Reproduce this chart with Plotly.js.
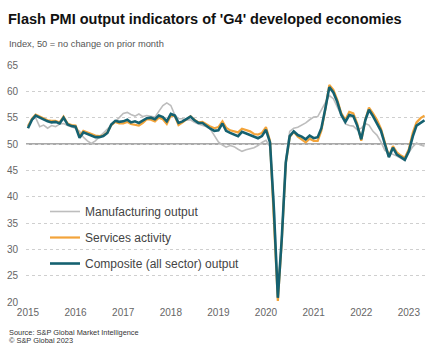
<!DOCTYPE html>
<html>
<head>
<meta charset="utf-8">
<script src="https://cdn.plot.ly/plotly-3.0.1.min.js"></script>
<style>html,body{margin:0;padding:0;background:#fff;}#chart{width:442px;height:353px;}</style>
</head>
<body>
<div id="chart"></div>
<script>
// ---- Data (Jan 2015 – May 2023, monthly) ----
const START_YEAR = 2015;
const N_MONTHS = 101;

const composite = [
  53.0, 54.6, 55.4, 55.0, 54.6, 54.3, 54.1, 54.2, 53.9, 55.0, 53.7, 53.4,
  53.3, 51.2, 52.2, 51.9, 51.6, 51.3, 51.3, 51.5, 52.1, 53.7, 54.4, 54.2,
  54.3, 54.6, 54.1, 54.3, 54.0, 54.4, 54.9, 55.0, 54.7, 55.4, 55.1, 54.3,
  55.7, 55.4, 54.0, 54.3, 54.7, 55.2, 54.5, 54.0, 54.0, 53.4, 52.9, 52.5,
  52.6, 53.9, 52.5, 52.1, 51.8, 51.5, 52.3, 52.0, 51.7, 51.3, 51.1, 51.5,
  52.7, 50.3, 38.0, 20.8, 32.0, 46.5, 51.5, 52.4, 51.7, 51.4, 50.9, 51.6,
  51.1, 51.3, 53.0, 56.8, 60.8, 59.8, 58.0, 55.5, 54.2, 55.5, 55.3, 53.5,
  50.9, 54.5, 56.5, 55.3, 54.0, 52.5, 50.0, 47.5, 49.3, 48.0, 47.5, 47.0,
  48.6, 51.5, 53.5, 54.1, 54.5
];
const services = [
  53.3, 54.8, 55.6, 55.2, 54.8, 54.5, 54.4, 54.4, 54.1, 55.2, 53.9, 53.6,
  53.5, 51.5, 52.5, 52.2, 51.9, 51.6, 51.5, 51.6, 52.2, 53.6, 54.2, 53.9,
  53.9, 54.2, 53.8, 53.6, 53.5, 54.0, 54.7, 54.6, 54.3, 55.0, 54.7, 53.8,
  55.4, 55.3, 53.6, 54.1, 54.7, 55.3, 54.6, 54.1, 54.2, 53.7, 53.3, 53.0,
  53.2, 54.3, 53.1, 52.6, 52.4, 52.2, 52.9, 52.7, 52.4, 51.9, 51.8, 52.1,
  53.2, 50.6, 37.0, 20.2, 31.5, 46.3, 51.3, 52.3, 51.4, 50.9, 50.3, 51.0,
  50.6, 50.6, 52.5, 56.7, 61.2, 60.3, 58.4, 55.8, 54.6, 56.1, 55.8, 53.9,
  50.6, 54.6, 56.9, 55.8, 54.6, 52.9, 50.3, 47.6, 49.6, 48.4, 47.8, 47.4,
  49.0, 52.2, 54.1, 54.9, 55.4
];
const manufacturing = [
  53.6, 54.6, 55.0, 53.3, 53.6, 53.0, 53.5, 53.3, 53.8, 53.9, 53.5, 53.2,
  53.0, 52.4, 51.3, 50.6, 50.1, 50.6, 51.3, 52.0, 52.8, 53.5, 54.3, 55.0,
  55.8, 56.0, 55.6, 55.3, 55.7, 55.2, 55.4, 55.3, 55.1, 56.2, 57.3, 57.8,
  57.3, 55.5, 54.8, 54.8, 54.5, 54.6, 54.1, 53.8, 53.5, 53.3, 52.8, 51.6,
  50.4, 49.8, 49.4, 49.7, 49.5, 49.0, 48.6, 48.9, 49.1, 49.3, 49.7, 50.3,
  50.7, 49.5, 39.5, 21.5, 32.5, 47.0, 52.4, 53.0, 53.2, 53.6, 54.0, 54.6,
  55.1, 55.2, 56.4, 58.0, 59.2, 58.6, 57.0, 55.3, 53.8, 53.5, 53.4, 52.7,
  53.0, 53.9, 53.6, 52.4, 51.7, 50.4, 48.8, 48.4, 48.1, 47.7, 47.3, 46.9,
  48.4, 49.5, 50.2, 49.8, 49.6
];

const seriesNames = ["Manufacturing output", "Services activity", "Composite (all sector) output"];
const tickDates = ["2015-01-01","2016-01-01","2017-01-01","2018-01-01","2019-01-01","2020-01-01","2021-01-01","2022-01-01","2023-01-01"];
const tickLabels = ["2015","2016","2017","2018","2019","2020","2021","2022","2023"];
const BASELINE = 50;

// month dates (calendar, not data values)
const months = [];
for (let i = 0; i < N_MONTHS; i++) {
  const y = START_YEAR + Math.floor(i / 12);
  const m = (i % 12) + 1;
  months.push(y + "-" + String(m).padStart(2, "0") + "-01");
}

const FONT = 'Arial, "Liberation Sans", sans-serif';
const colors = ["#bdbdbd", "#f3a43a", "#156170"];
const widths = [1.6, 2.2, 2.6];
const values = [manufacturing, services, composite];

const traces = values.map((v, k) => ({
  type: "scatter",
  mode: "lines",
  x: months,
  y: v,
  name: seriesNames[k],
  legendgroup: "g" + k,
  line: { color: colors[k], width: widths[k] },
  hoverinfo: "skip"
}));

const layout = {
  width: 442,
  height: 353,
  margin: { l: 26, r: 17, t: 65, b: 51 },
  paper_bgcolor: "#ffffff",
  plot_bgcolor: "#ffffff",
  font: { family: FONT, color: "#555" },
  title: {
    text: "<b>Flash PMI output indicators of 'G4' developed economies</b>",
    font: { family: FONT, size: 14.5, color: "#111" },
    xref: "container", yref: "container",
    x: 8 / 442, xanchor: "left",
    y: 1 - 18.5 / 353, yanchor: "middle"
  },
  xaxis: {
    type: "date",
    range: ["2014-12-17", "2023-05-05"],
    tickmode: "array",
    tickvals: tickDates,
    ticktext: tickLabels,
    showgrid: false,
    zeroline: false,
    showline: false,
    ticks: "",
    ticklabelstandoff: 3,
    tickfont: { family: FONT, size: 10, color: "#666" },
    fixedrange: true
  },
  yaxis: {
    range: [20, 65],
    tick0: 20,
    dtick: 5,
    showgrid: true,
    gridcolor: "#cfcfcf",
    griddash: "dot",
    gridwidth: 1,
    zeroline: false,
    showline: false,
    ticks: "",
    ticklabelstandoff: 7,
    tickfont: { family: FONT, size: 10, color: "#666" },
    fixedrange: true
  },
  shapes: [{
    type: "line", xref: "paper", yref: "y",
    x0: 0, x1: 1, y0: BASELINE, y1: BASELINE,
    line: { color: "#8c8c8c", width: 1.3 },
    layer: "between"
  }],
  showlegend: true,
  legend: {
    x: 0.0476, xanchor: "left",
    y: 0.443, yanchor: "top",
    bgcolor: "rgba(0,0,0,0)",
    borderwidth: 0,
    traceorder: "grouped",
    tracegroupgap: 7,
    font: { family: FONT, size: 12, color: "#444" }
  },
  annotations: [
    {
      text: "Index, 50 = no change on prior month",
      xref: "paper", yref: "paper",
      x: -19 / 399, xanchor: "left",
      y: (302 - 43.5) / 237, yanchor: "middle",
      showarrow: false,
      font: { family: FONT, size: 9.3, color: "#555" }
    },
    {
      text: "Source: S&P Global Market Intelligence",
      xref: "paper", yref: "paper",
      x: -19 / 399, xanchor: "left",
      y: (302 - 332) / 237, yanchor: "middle",
      showarrow: false,
      font: { family: FONT, size: 7.4, color: "#333" }
    },
    {
      text: "© S&P Global 2023",
      xref: "paper", yref: "paper",
      x: -19 / 399, xanchor: "left",
      y: (302 - 340.7) / 237, yanchor: "middle",
      showarrow: false,
      font: { family: FONT, size: 7.4, color: "#333" }
    }
  ]
};

Plotly.newPlot("chart", traces, layout, { staticPlot: true, displayModeBar: false });
</script>
</body>
</html>
